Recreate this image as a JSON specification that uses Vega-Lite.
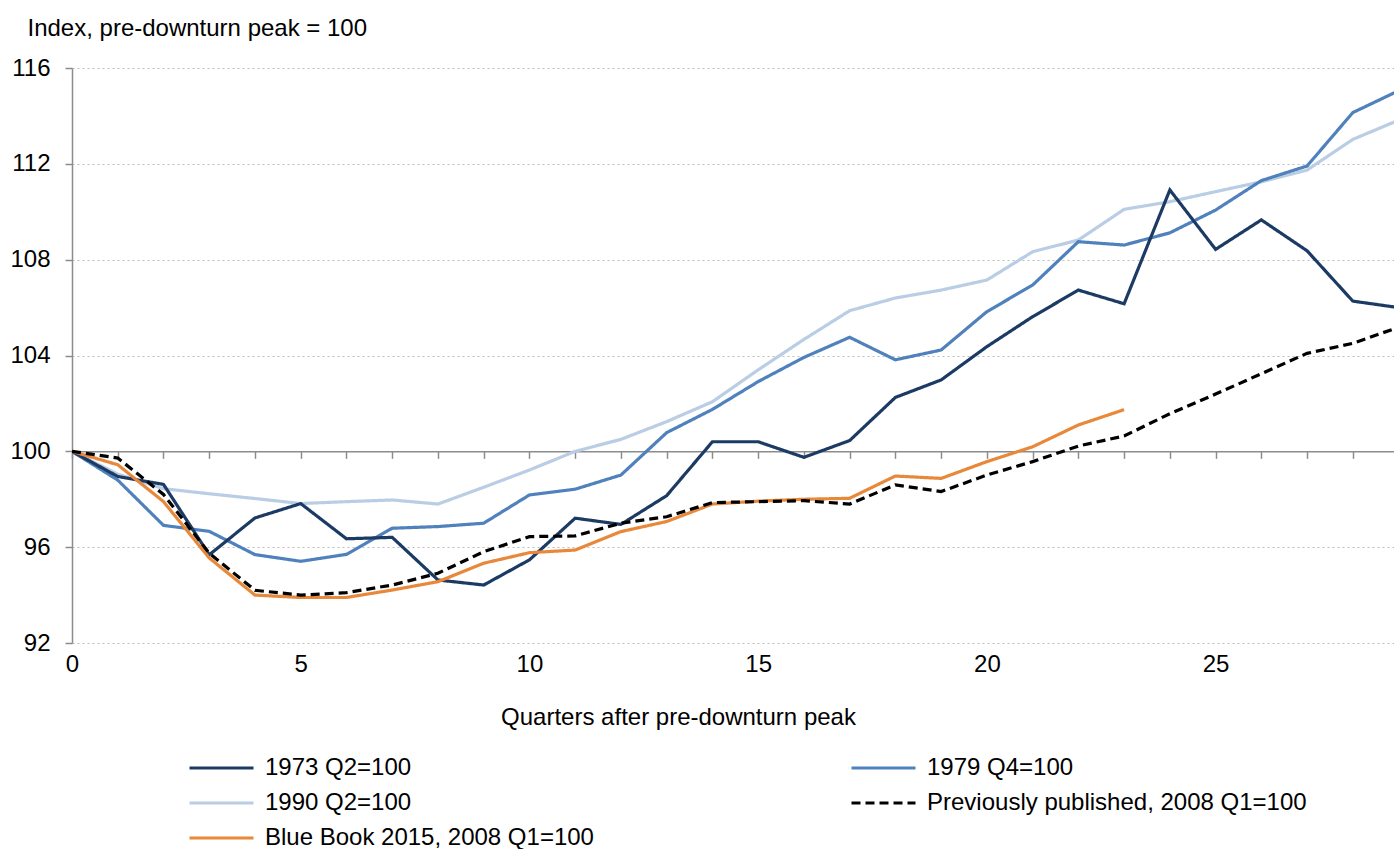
{
  "$schema": "https://vega.github.io/schema/vega-lite/v6.json",
  "width": 1322,
  "height": 575,
  "autosize": {"type": "none"},
  "padding": {"left": 72, "top": 68, "right": 0, "bottom": 206},
  "background": "white",
  "config": {
    "font": "Liberation Sans",
    "view": {"stroke": null},
    "axis": {"labelColor": "#000000", "titleColor": "#000000", "titleFontWeight": "normal", "labelFontSize": 24, "titleFontSize": 24}
  },
  "datasets": {
    "series": [
      {"s": "1990 Q2=100", "q": 0, "v": 100}, {"s": "1990 Q2=100", "q": 1, "v": 99.05}, {"s": "1990 Q2=100", "q": 2, "v": 98.44}, {"s": "1990 Q2=100", "q": 3, "v": 98.23}, {"s": "1990 Q2=100", "q": 4, "v": 98.03}, {"s": "1990 Q2=100", "q": 5, "v": 97.82}, {"s": "1990 Q2=100", "q": 6, "v": 97.9}, {"s": "1990 Q2=100", "q": 7, "v": 97.97}, {"s": "1990 Q2=100", "q": 8, "v": 97.8}, {"s": "1990 Q2=100", "q": 9, "v": 98.5}, {"s": "1990 Q2=100", "q": 10, "v": 99.22}, {"s": "1990 Q2=100", "q": 11, "v": 100.0}, {"s": "1990 Q2=100", "q": 12, "v": 100.5}, {"s": "1990 Q2=100", "q": 13, "v": 101.24}, {"s": "1990 Q2=100", "q": 14, "v": 102.07}, {"s": "1990 Q2=100", "q": 15, "v": 103.4}, {"s": "1990 Q2=100", "q": 16, "v": 104.67}, {"s": "1990 Q2=100", "q": 17, "v": 105.87}, {"s": "1990 Q2=100", "q": 18, "v": 106.4}, {"s": "1990 Q2=100", "q": 19, "v": 106.73}, {"s": "1990 Q2=100", "q": 20, "v": 107.15}, {"s": "1990 Q2=100", "q": 21, "v": 108.33}, {"s": "1990 Q2=100", "q": 22, "v": 108.82}, {"s": "1990 Q2=100", "q": 23, "v": 110.1}, {"s": "1990 Q2=100", "q": 24, "v": 110.42}, {"s": "1990 Q2=100", "q": 25, "v": 110.84}, {"s": "1990 Q2=100", "q": 26, "v": 111.25}, {"s": "1990 Q2=100", "q": 27, "v": 111.74}, {"s": "1990 Q2=100", "q": 28, "v": 113.02}, {"s": "1990 Q2=100", "q": 29, "v": 113.82},
      {"s": "1979 Q4=100", "q": 0, "v": 100}, {"s": "1979 Q4=100", "q": 1, "v": 98.8}, {"s": "1979 Q4=100", "q": 2, "v": 96.91}, {"s": "1979 Q4=100", "q": 3, "v": 96.66}, {"s": "1979 Q4=100", "q": 4, "v": 95.69}, {"s": "1979 Q4=100", "q": 5, "v": 95.41}, {"s": "1979 Q4=100", "q": 6, "v": 95.7}, {"s": "1979 Q4=100", "q": 7, "v": 96.79}, {"s": "1979 Q4=100", "q": 8, "v": 96.86}, {"s": "1979 Q4=100", "q": 9, "v": 97.0}, {"s": "1979 Q4=100", "q": 10, "v": 98.18}, {"s": "1979 Q4=100", "q": 11, "v": 98.42}, {"s": "1979 Q4=100", "q": 12, "v": 99.01}, {"s": "1979 Q4=100", "q": 13, "v": 100.78}, {"s": "1979 Q4=100", "q": 14, "v": 101.75}, {"s": "1979 Q4=100", "q": 15, "v": 102.91}, {"s": "1979 Q4=100", "q": 16, "v": 103.92}, {"s": "1979 Q4=100", "q": 17, "v": 104.76}, {"s": "1979 Q4=100", "q": 18, "v": 103.82}, {"s": "1979 Q4=100", "q": 19, "v": 104.23}, {"s": "1979 Q4=100", "q": 20, "v": 105.83}, {"s": "1979 Q4=100", "q": 21, "v": 106.94}, {"s": "1979 Q4=100", "q": 22, "v": 108.75}, {"s": "1979 Q4=100", "q": 23, "v": 108.61}, {"s": "1979 Q4=100", "q": 24, "v": 109.12}, {"s": "1979 Q4=100", "q": 25, "v": 110.07}, {"s": "1979 Q4=100", "q": 26, "v": 111.3}, {"s": "1979 Q4=100", "q": 27, "v": 111.91}, {"s": "1979 Q4=100", "q": 28, "v": 114.14}, {"s": "1979 Q4=100", "q": 29, "v": 115.05},
      {"s": "1973 Q2=100", "q": 0, "v": 100}, {"s": "1973 Q2=100", "q": 1, "v": 98.95}, {"s": "1973 Q2=100", "q": 2, "v": 98.62}, {"s": "1973 Q2=100", "q": 3, "v": 95.68}, {"s": "1973 Q2=100", "q": 4, "v": 97.22}, {"s": "1973 Q2=100", "q": 5, "v": 97.82}, {"s": "1973 Q2=100", "q": 6, "v": 96.35}, {"s": "1973 Q2=100", "q": 7, "v": 96.41}, {"s": "1973 Q2=100", "q": 8, "v": 94.63}, {"s": "1973 Q2=100", "q": 9, "v": 94.42}, {"s": "1973 Q2=100", "q": 10, "v": 95.47}, {"s": "1973 Q2=100", "q": 11, "v": 97.21}, {"s": "1973 Q2=100", "q": 12, "v": 96.95}, {"s": "1973 Q2=100", "q": 13, "v": 98.15}, {"s": "1973 Q2=100", "q": 14, "v": 100.4}, {"s": "1973 Q2=100", "q": 15, "v": 100.4}, {"s": "1973 Q2=100", "q": 16, "v": 99.75}, {"s": "1973 Q2=100", "q": 17, "v": 100.45}, {"s": "1973 Q2=100", "q": 18, "v": 102.25}, {"s": "1973 Q2=100", "q": 19, "v": 102.98}, {"s": "1973 Q2=100", "q": 20, "v": 104.37}, {"s": "1973 Q2=100", "q": 21, "v": 105.62}, {"s": "1973 Q2=100", "q": 22, "v": 106.73}, {"s": "1973 Q2=100", "q": 23, "v": 106.16}, {"s": "1973 Q2=100", "q": 24, "v": 110.91}, {"s": "1973 Q2=100", "q": 25, "v": 108.43}, {"s": "1973 Q2=100", "q": 26, "v": 109.66}, {"s": "1973 Q2=100", "q": 27, "v": 108.37}, {"s": "1973 Q2=100", "q": 28, "v": 106.27}, {"s": "1973 Q2=100", "q": 29, "v": 106.0},
      {"s": "Blue Book 2015, 2008 Q1=100", "q": 0, "v": 100}, {"s": "Blue Book 2015, 2008 Q1=100", "q": 1, "v": 99.44}, {"s": "Blue Book 2015, 2008 Q1=100", "q": 2, "v": 97.9}, {"s": "Blue Book 2015, 2008 Q1=100", "q": 3, "v": 95.55}, {"s": "Blue Book 2015, 2008 Q1=100", "q": 4, "v": 94.0}, {"s": "Blue Book 2015, 2008 Q1=100", "q": 5, "v": 93.9}, {"s": "Blue Book 2015, 2008 Q1=100", "q": 6, "v": 93.9}, {"s": "Blue Book 2015, 2008 Q1=100", "q": 7, "v": 94.21}, {"s": "Blue Book 2015, 2008 Q1=100", "q": 8, "v": 94.56}, {"s": "Blue Book 2015, 2008 Q1=100", "q": 9, "v": 95.33}, {"s": "Blue Book 2015, 2008 Q1=100", "q": 10, "v": 95.77}, {"s": "Blue Book 2015, 2008 Q1=100", "q": 11, "v": 95.88}, {"s": "Blue Book 2015, 2008 Q1=100", "q": 12, "v": 96.65}, {"s": "Blue Book 2015, 2008 Q1=100", "q": 13, "v": 97.07}, {"s": "Blue Book 2015, 2008 Q1=100", "q": 14, "v": 97.8}, {"s": "Blue Book 2015, 2008 Q1=100", "q": 15, "v": 97.92}, {"s": "Blue Book 2015, 2008 Q1=100", "q": 16, "v": 98.0}, {"s": "Blue Book 2015, 2008 Q1=100", "q": 17, "v": 98.04}, {"s": "Blue Book 2015, 2008 Q1=100", "q": 18, "v": 98.97}, {"s": "Blue Book 2015, 2008 Q1=100", "q": 19, "v": 98.87}, {"s": "Blue Book 2015, 2008 Q1=100", "q": 20, "v": 99.57}, {"s": "Blue Book 2015, 2008 Q1=100", "q": 21, "v": 100.19}, {"s": "Blue Book 2015, 2008 Q1=100", "q": 22, "v": 101.1}, {"s": "Blue Book 2015, 2008 Q1=100", "q": 23, "v": 101.74},
      {"s": "Previously published, 2008 Q1=100", "q": 0, "v": 100}, {"s": "Previously published, 2008 Q1=100", "q": 1, "v": 99.72}, {"s": "Previously published, 2008 Q1=100", "q": 2, "v": 98.2}, {"s": "Previously published, 2008 Q1=100", "q": 3, "v": 95.75}, {"s": "Previously published, 2008 Q1=100", "q": 4, "v": 94.2}, {"s": "Previously published, 2008 Q1=100", "q": 5, "v": 94.0}, {"s": "Previously published, 2008 Q1=100", "q": 6, "v": 94.1}, {"s": "Previously published, 2008 Q1=100", "q": 7, "v": 94.42}, {"s": "Previously published, 2008 Q1=100", "q": 8, "v": 94.91}, {"s": "Previously published, 2008 Q1=100", "q": 9, "v": 95.81}, {"s": "Previously published, 2008 Q1=100", "q": 10, "v": 96.44}, {"s": "Previously published, 2008 Q1=100", "q": 11, "v": 96.47}, {"s": "Previously published, 2008 Q1=100", "q": 12, "v": 97.0}, {"s": "Previously published, 2008 Q1=100", "q": 13, "v": 97.27}, {"s": "Previously published, 2008 Q1=100", "q": 14, "v": 97.86}, {"s": "Previously published, 2008 Q1=100", "q": 15, "v": 97.9}, {"s": "Previously published, 2008 Q1=100", "q": 16, "v": 97.94}, {"s": "Previously published, 2008 Q1=100", "q": 17, "v": 97.8}, {"s": "Previously published, 2008 Q1=100", "q": 18, "v": 98.6}, {"s": "Previously published, 2008 Q1=100", "q": 19, "v": 98.32}, {"s": "Previously published, 2008 Q1=100", "q": 20, "v": 99.01}, {"s": "Previously published, 2008 Q1=100", "q": 21, "v": 99.57}, {"s": "Previously published, 2008 Q1=100", "q": 22, "v": 100.22}, {"s": "Previously published, 2008 Q1=100", "q": 23, "v": 100.64}, {"s": "Previously published, 2008 Q1=100", "q": 24, "v": 101.57}, {"s": "Previously published, 2008 Q1=100", "q": 25, "v": 102.39}, {"s": "Previously published, 2008 Q1=100", "q": 26, "v": 103.24}, {"s": "Previously published, 2008 Q1=100", "q": 27, "v": 104.09}, {"s": "Previously published, 2008 Q1=100", "q": 28, "v": 104.51}, {"s": "Previously published, 2008 Q1=100", "q": 29, "v": 105.18}
    ]
  },
  "data": {"name": "series"},
  "layer": [
    {
      "mark": {"type": "point", "opacity": 0},
      "encoding": {
        "x": {"field": "q", "type": "quantitative", "scale": {"domain": [0, 28.9], "nice": false, "zero": false},
          "axis": {"orient": "bottom", "offset": -191.6667, "values": [0,1,2,3,4,5,6,7,8,9,10,11,12,13,14,15,16,17,18,19,20,21,22,23,24,25,26,27,28], "labels": false, "title": null, "grid": false, "domain": true, "domainColor": "#8c8c8c", "domainWidth": 1.5, "ticks": true, "tickSize": 7, "tickColor": "#8c8c8c", "tickWidth": 1.5}},
        "y": {"field": "v", "type": "quantitative", "scale": {"domain": [92, 116], "nice": false, "zero": false},
          "axis": {"orient": "left", "values": [92,96,100,104,108,112,116], "title": "Index, pre-downturn peak = 100", "titleAngle": 0, "titleAlign": "left", "titleBaseline": "middle", "titleX": -45, "titleY": -40, "labelPadding": 15, "tickSize": 7, "tickColor": "#8c8c8c", "tickWidth": 1.5, "domainColor": "#8c8c8c", "domainWidth": 1.5, "grid": true, "gridColor": "#bdbdbd", "gridDash": [2, 3], "gridWidth": 1}}
      }
    },
    {
      "mark": {"type": "line", "clip": true, "strokeWidth": 3.2},
      "encoding": {
        "x": {"field": "q", "type": "quantitative",
          "axis": {"orient": "bottom", "values": [0, 5, 10, 15, 20, 25], "domain": false, "ticks": false, "grid": false, "labelPadding": 9, "labelFlush": false, "title": "Quarters after pre-downturn peak", "titleX": 606, "titleY": 74, "titleAlign": "center", "titleBaseline": "middle"}},
        "y": {"field": "v", "type": "quantitative"},
        "color": {"field": "s", "type": "nominal",
          "scale": {"domain": ["1973 Q2=100", "1990 Q2=100", "Blue Book 2015, 2008 Q1=100", "1979 Q4=100", "Previously published, 2008 Q1=100"], "range": ["#1b3a64", "#b9cde5", "#e8883a", "#4f81bd", "#000000"]},
          "legend": {"orient": "none", "legendX": 116, "legendY": 689, "columns": 2, "title": null, "symbolType": "stroke", "symbolSize": 4096, "symbolStrokeWidth": 3, "clipHeight": 22, "rowPadding": 11, "columnPadding": 256, "gridAlign": "each", "labelFontSize": 24, "labelOffset": 10, "labelColor": "#000000", "labelLimit": 0, "padding": 0}},
        "strokeDash": {"field": "s", "type": "nominal",
          "scale": {"domain": ["1973 Q2=100", "1990 Q2=100", "Blue Book 2015, 2008 Q1=100", "1979 Q4=100", "Previously published, 2008 Q1=100"], "range": [[1, 0], [1, 0], [1, 0], [1, 0], [9, 5]]},
          "legend": {"orient": "none", "legendX": 116, "legendY": 689, "columns": 2, "title": null, "symbolType": "stroke", "symbolSize": 4096, "symbolStrokeWidth": 3, "clipHeight": 22, "rowPadding": 11, "columnPadding": 256, "gridAlign": "each", "labelFontSize": 24, "labelOffset": 10, "labelColor": "#000000", "labelLimit": 0, "padding": 0}}
      }
    }
  ],
  "resolve": {"axis": {"x": "independent"}}
}
